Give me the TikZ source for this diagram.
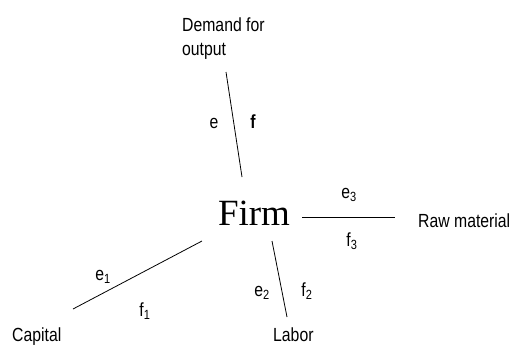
\documentclass[tikz,border=0pt]{standalone}
\usepackage{fontspec}
\setmainfont{Liberation Sans}
\newfontfamily\narrowfont[FakeStretch=0.83]{Liberation Sans}
\newfontfamily\firmfont{Liberation Serif}
\usetikzlibrary{positioning}

\begin{document}
\begin{tikzpicture}[
  x=1pt, y=-1pt,
  party/.style={font=\narrowfont\fontsize{19}{24}\selectfont, inner sep=0pt, anchor=base west},
  flow/.style={font=\narrowfont\fontsize{19}{21}\selectfont, inner sep=0pt, anchor=base},
  tie/.style={line width=0.8pt, black},
]
\useasboundingbox (0,0) rectangle (511,346);

% The firm in the middle
\node[font=\firmfont\fontsize{37}{40}\selectfont, inner sep=0pt, anchor=base]
  (firm) at (254,225) {Firm};

% Markets around it
\node[party, align=left] (demand) at (182,55) {Demand for\\output};
\node[party] (raw) at (418,227) {Raw material};
\node[party] (capital) at (12,341) {Capital};
\node[party] (labor) at (273,341) {Labor};

% Ends of the ties
\coordinate (firm-n) at (242,177);
\coordinate (demand-s) at (226,72);
\coordinate (firm-e) at (302,217);
\coordinate (raw-w) at (395,217);
\coordinate (firm-sw) at (202,241);
\coordinate (capital-ne) at (73,309);
\coordinate (firm-s) at (272,241);
\coordinate (labor-n) at (287,317);

\draw[tie] (firm-n) -- (demand-s);
\draw[tie] (firm-e) -- (raw-w);
\draw[tie] (firm-sw) -- (capital-ne);
\draw[tie] (firm-s) -- (labor-n);

% Flow labels
\node[flow] (e0) at (214,128) {e};
\node[flow] (f0) at (253,128) {\textbf{f}};
\node[flow] (e1) at (103,280) {e\textsubscript{1}};
\node[flow] (f1) at (145,316) {f\textsubscript{1}};
\node[flow] (e2) at (262,296) {e\textsubscript{2}};
\node[flow] (f2) at (307,296) {f\textsubscript{2}};
\node[flow] (e3) at (349,198) {e\textsubscript{3}};
\node[flow] (f3) at (352,246) {f\textsubscript{3}};

\end{tikzpicture}
\end{document}
